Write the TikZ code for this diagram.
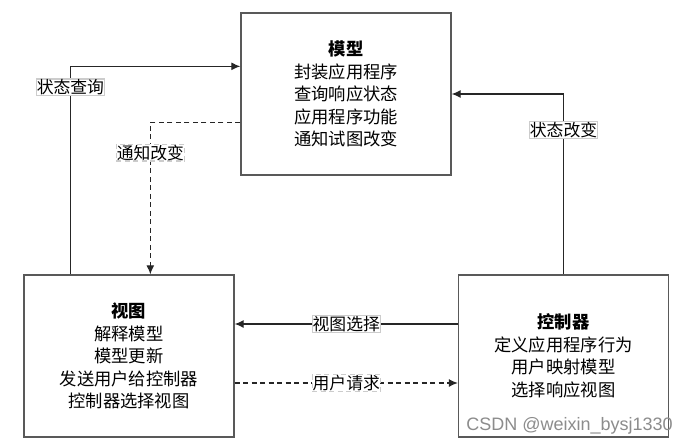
\documentclass[tikz,border=0pt]{standalone}
\usepackage{fontspec}
\setmainfont{Noto Sans CJK SC}
\newfontfamily\wmfont{Liberation Sans}
\usetikzlibrary{arrows.meta,positioning}

\begin{document}
\begin{tikzpicture}[x=1pt,y=-1pt,
	blk/.style={draw=black!65,line width=1.3pt,fill=white,minimum width=210pt,
	minimum height=162pt,align=center,inner sep=0pt,font=\fontsize{17.3}{22.5}\selectfont},
	lbl/.style={draw=black!20,fill=white,inner sep=0.5pt,font=\fontsize{16.8}{18}\selectfont},
	arr/.style={line width=1.2pt,draw=black!85,-{Latex[length=9pt,width=8pt]}},
	dsh/.style={dash pattern=on 5pt off 3.5pt}]
\useasboundingbox (0,0) rectangle (689,447);
% the three parts
\node[blk] (model) at (346,94) {\textbf{模型}\\封装应用程序\\查询响应状态\\应用程序功能\\通知试图改变};
\node[blk] (view) at (129,356) {\textbf{视图}\\解释模型\\模型更新\\发送用户给控制器\\控制器选择视图};
\node[blk] (ctrl) at (563.5,356) {\textbf{控制器}\\定义应用程序行为\\用户映射模型\\选择响应视图};
% connectors
\draw[arr] ([xshift=47pt]view.north west) |- ([yshift=-54pt]model.north west)
	node[lbl,pos=0.45] {状态查询};
\draw[arr,dsh] ([yshift=-110pt]model.north west) -| ([xshift=127pt]view.north west)
	node[lbl,pos=0.6] {通知改变};
\draw[arr] (ctrl.north) |- (model.east)
	node[lbl,pos=0.4] {状态改变};
\draw[arr] ([yshift=32pt]ctrl.west) -- ([yshift=32pt]view.east)
	node[lbl,pos=0.5] {视图选择};
\draw[arr,dsh] ([yshift=-27pt]view.east) -- ([yshift=-27pt]ctrl.west)
	node[lbl,pos=0.5] {用户请求};
% watermark
\node[font=\wmfont\fontsize{18}{18}\selectfont,text=black!45,anchor=east,inner sep=0pt] (wm) at (673,426) {CSDN @weixin\_bysj1330};
\end{tikzpicture}
\end{document}
